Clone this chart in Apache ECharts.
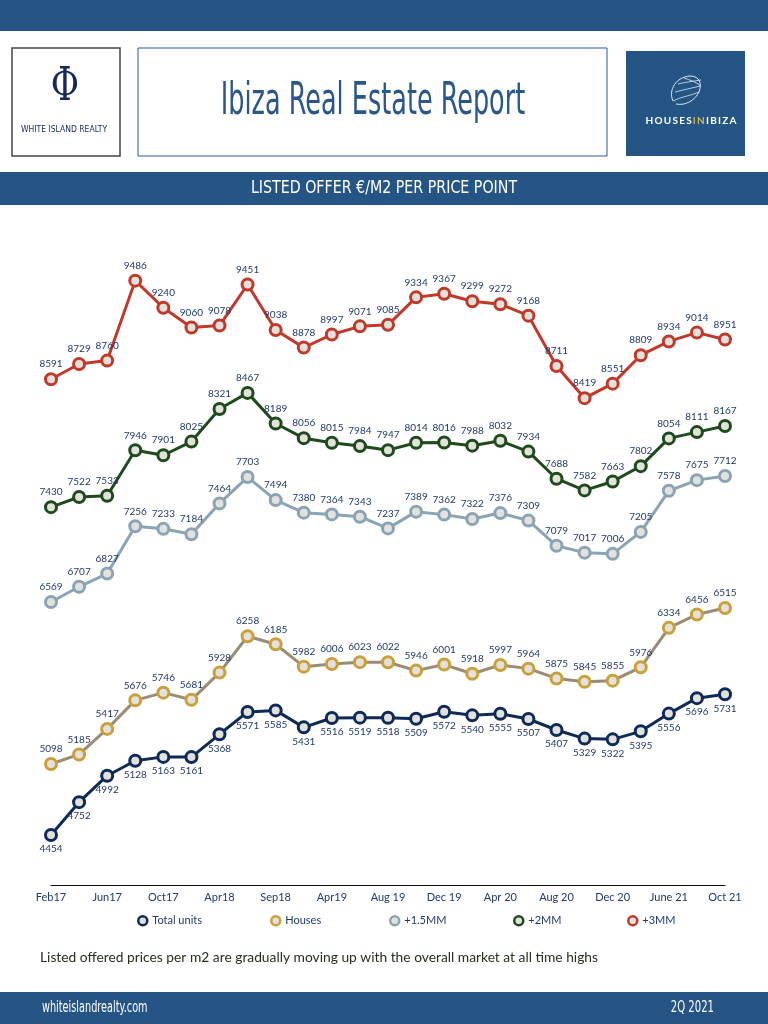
<!DOCTYPE html>
<html>
<head>
<meta charset="utf-8">
<script src="https://cdn.jsdelivr.net/npm/echarts@6/dist/echarts.min.js"></script>
<style>
html,body{margin:0;padding:0;background:#fff;}
#c{width:768px;height:1024px;}
</style>
</head>
<body>
<div id="c"></div>
<script>
var categories = ["Feb17","Apr17","Jun17","Aug17","Oct17","Jan18","Apr18","Jun18","Sep18","Dec18","Apr19","Jun19","Aug 19","Oct 19","Dec 19","Feb 20","Apr 20","Jun 20","Aug 20","Oct 20","Dec 20","Mar 21","June 21","Aug 21","Oct 21"];
var totalUnits = [4454,4752,4992,5128,5163,5161,5368,5571,5585,5431,5516,5519,5518,5509,5572,5540,5555,5507,5407,5329,5322,5395,5556,5696,5731];
var houses = [5098,5185,5417,5676,5746,5681,5928,6258,6185,5982,6006,6023,6022,5946,6001,5918,5997,5964,5875,5845,5855,5976,6334,6456,6515];
var plus15MM = [6569,6707,6827,7256,7233,7184,7464,7703,7494,7380,7364,7343,7237,7389,7362,7322,7376,7309,7079,7017,7006,7205,7578,7675,7712];
var plus2MM = [7430,7522,7533,7946,7901,8025,8321,8467,8189,8056,8015,7984,7947,8014,8016,7988,8032,7934,7688,7582,7663,7802,8054,8111,8167];
var plus3MM = [8591,8729,8760,9486,9240,9060,9078,9451,9038,8878,8997,9071,9085,9334,9367,9299,9272,9168,8711,8419,8551,8809,8934,9014,8951];
var seriesNames = ["Total units","Houses","+1.5MM","+2MM","+3MM"];

var BLUE = '#255584';
var LABEL = '#22396a';
var FILL = '#e3e1dc';
var NARROW = '"DejaVu Sans Condensed","DejaVu Sans",sans-serif';

function mk(name, data, lineColor, borderColor, pos, z) {
  return {
    name: name, type: 'line', data: data, z: z,
    symbol: 'circle', symbolSize: 11,
    lineStyle: {color: lineColor, width: 3},
    itemStyle: {color: FILL, borderColor: borderColor, borderWidth: 3},
    label: {show: true, position: pos, distance: pos === 'top' ? 3 : 2, color: LABEL, fontSize: 10, fontFamily: 'Lato'},
    emphasis: {disabled: true},
    animation: false
  };
}

var legendDefs = [
  {name: seriesNames[0], left: 132, color: '#0e2a56'},
  {name: seriesNames[1], left: 265, color: '#c9a03a'},
  {name: seriesNames[2], left: 384, color: '#8aa4b5'},
  {name: seriesNames[3], left: 508, color: '#1f4a1c'},
  {name: seriesNames[4], left: 622, color: '#c0392b'}
];

function shellCurve(x1, y1, c1x, c1y, c2x, c2y, x2, y2, w) {
  return {type: 'bezierCurve', shape: {x1: x1, y1: y1, cpx1: c1x, cpy1: c1y, cpx2: c2x, cpy2: c2y, x2: x2, y2: y2},
    style: {stroke: '#dfe7f0', lineWidth: w || 0.8, fill: null}, silent: true};
}

var TS = '\u2009';
function spaced(s) { return s.split('').join(TS); }

var chart = echarts.init(document.getElementById('c'), null, {renderer: 'canvas'});
chart.setOption({
  animation: false,
  backgroundColor: '#fff',
  grid: {left: 51, right: 43, top: 224, bottom: 139, containLabel: false},
  xAxis: {
    type: 'category', data: categories, boundaryGap: false,
    axisLine: {lineStyle: {color: '#111', width: 1}},
    axisTick: {show: false},
    axisLabel: {interval: 1, color: LABEL, fontSize: 11, fontFamily: 'Lato', margin: 7}
  },
  yAxis: {type: 'value', min: 4000, max: 10000, show: false, splitLine: {show: false}},
  legend: legendDefs.map(function (d) {
    return {
      data: [{name: d.name, icon: 'circle', itemStyle: {color: FILL, borderColor: d.color, borderWidth: 2.5}}],
      left: d.left, top: 910, itemWidth: 9, itemHeight: 9, itemGap: 6,
      textStyle: {color: LABEL, fontSize: 11, fontFamily: 'Lato'},
      selectedMode: false
    };
  }),
  series: [
    mk(seriesNames[4], plus3MM, '#c0392b', '#c0392b', 'top', 2),
    mk(seriesNames[3], plus2MM, '#1f4a1c', '#1f4a1c', 'top', 3),
    mk(seriesNames[2], plus15MM, '#8aa4b5', '#8aa4b5', 'top', 4),
    mk(seriesNames[1], houses, '#9b8c75', '#c9a03a', 'top', 5),
    mk(seriesNames[0], totalUnits, '#0e2a56', '#0e2a56', 'bottom', 6)
  ],
  graphic: [
    {type: 'rect', shape: {x: 0, y: 0, width: 768, height: 31}, style: {fill: BLUE}, silent: true},
    {type: 'rect', shape: {x: 12, y: 48, width: 108, height: 108}, style: {fill: '#fff', stroke: '#444', lineWidth: 1.5}, silent: true},
    {type: 'text', x: 65, y: 88, style: {text: '\u03A6', fill: '#17285a', font: '46px "DejaVu Serif",serif', align: 'center', verticalAlign: 'middle'}, scaleX: 0.75, silent: true},
    {type: 'text', x: 64, y: 130, style: {text: 'WHITE ISLAND REALTY', fill: '#17285a', font: '8.5px ' + NARROW, align: 'center', verticalAlign: 'middle'}, silent: true},
    {type: 'rect', shape: {x: 138, y: 48, width: 469, height: 108}, style: {fill: '#fff', stroke: '#2b5a8c', lineWidth: 1}, silent: true},
    {type: 'text', x: 373, y: 103, scaleX: 0.645, style: {text: 'Ibiza Real Estate Report', fill: '#2a5689', font: '44px ' + NARROW, align: 'center', verticalAlign: 'middle'}, silent: true},
    {type: 'rect', shape: {x: 626, y: 51, width: 119, height: 105}, style: {fill: BLUE}, silent: true},
    shellCurve(673, 101, 668, 90, 676, 77, 690, 76, 1),
    shellCurve(690, 76, 700, 76, 702, 84, 699, 92, 1),
    shellCurve(699, 92, 695, 100, 686, 106, 676, 104, 1),
    shellCurve(673, 101, 680, 97, 690, 96, 699, 92),
    shellCurve(675, 92, 683, 90, 692, 88, 700, 86),
    shellCurve(678, 84, 686, 82, 694, 81, 701, 80),
    shellCurve(684, 78, 690, 80, 696, 82, 701, 86),
    {type: 'text', x: 691, y: 121, style: {
      text: '{w|' + spaced('HOUSES') + TS + '}{g|' + spaced('IN') + TS + '}{w|' + spaced('IBIZA') + '}', align: 'center', verticalAlign: 'middle',
      rich: {w: {fill: '#fff', font: 'bold 10px Lato'}, g: {fill: '#d8b25a', font: 'bold 10px Lato'}}
    }, silent: true},
    {type: 'rect', shape: {x: 0, y: 172, width: 768, height: 33}, style: {fill: BLUE}, silent: true},
    {type: 'text', x: 384, y: 189, scaleX: 0.93, style: {text: 'LISTED OFFER \u20AC/M2 PER PRICE POINT', fill: '#fff', font: '17px ' + NARROW, align: 'center', verticalAlign: 'middle'}, silent: true},
    {type: 'text', x: 40, y: 958, style: {text: 'Listed offered prices per m2 are gradually moving up with the overall market at all time highs', fill: '#26301c', font: '13.8px Lato', align: 'left', verticalAlign: 'middle'}, silent: true},
    {type: 'rect', shape: {x: 0, y: 992, width: 768, height: 32}, style: {fill: BLUE}, silent: true},
    {type: 'text', x: 42, y: 1008, scaleX: 0.675, style: {text: 'whiteislandrealty.com', fill: '#fff', font: '16px ' + NARROW, align: 'left', verticalAlign: 'middle'}, silent: true},
    {type: 'text', x: 714, y: 1008, scaleX: 0.7, style: {text: '2Q 2021', fill: '#fff', font: '16px ' + NARROW, align: 'right', verticalAlign: 'middle'}, silent: true}
  ]
});
</script>
</body>
</html>
